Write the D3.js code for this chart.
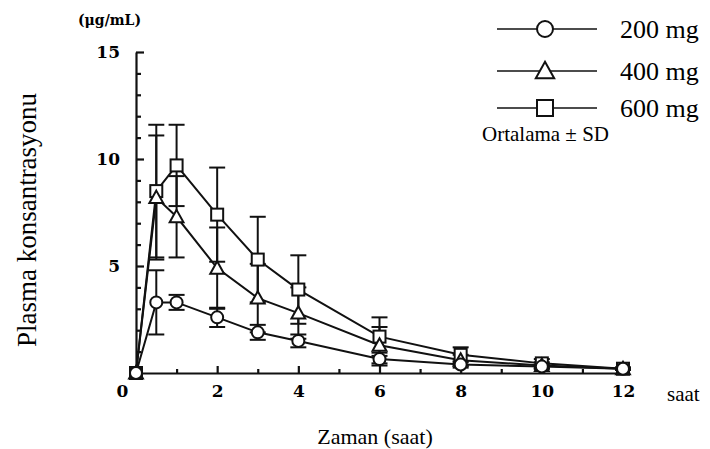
<!DOCTYPE html>
<html>
<head>
<meta charset="utf-8">
<script src="https://cdn.jsdelivr.net/npm/d3@7"></script>
<style>
  body { margin: 0; background: #fff; }
  svg { display: block; }
  .tick text { font-family: "DejaVu Serif", serif; font-weight: bold; }
  .serif { font-family: "Liberation Serif", "Times New Roman", "DejaVu Serif", serif; }
</style>
</head>
<body>
<div id="chart"></div>
<script>
// data (hours, ug/mL)
var times = [0, 0.5, 1, 2, 3, 4, 6, 8, 10, 12];
var mean200 = [0, 3.3, 3.3, 2.6, 1.9, 1.5, 0.65, 0.4, 0.3, 0.2];
var sd200   = [0, 1.5, 0.35, 0.45, 0.35, 0.3, 0.3, 0.15, 0.1, 0.05];
var mean400 = [0, 8.2, 7.3, 4.9, 3.5, 2.8, 1.3, 0.6, 0.35, 0.2];
var sd400   = [0, 2.9, 1.9, 1.9, 1.6, 1.2, 0.85, 0.25, 0.15, 0.05];
var mean600 = [0, 8.5, 9.7, 7.4, 5.3, 3.9, 1.7, 0.85, 0.45, 0.2];
var sd600   = [0, 3.1, 1.9, 2.2, 2.0, 1.6, 0.9, 0.35, 0.2, 0.05];
var doseLabels = ["200 mg", "400 mg", "600 mg"];
var xTicks = [0, 2, 4, 6, 8, 10, 12];
var yTicks = [5, 10, 15];

var width = 710, height = 449;
var svg = d3.select("#chart").append("svg")
  .attr("width", width).attr("height", height);

var x = d3.scaleLinear().domain([0, 12]).range([136, 623]);
var y = d3.scaleLinear().domain([0, 15]).range([373, 52]);

var series = [
  { name: doseLabels[0], shape: "circle", mean: mean200, sd: sd200 },
  { name: doseLabels[1], shape: "triangle", mean: mean400, sd: sd400 },
  { name: doseLabels[2], shape: "square", mean: mean600, sd: sd600 }
];

function drawMarker(g, shape, size) {
  if (shape === "circle") {
    g.append("circle").attr("r", size).attr("fill", "#fff")
      .attr("stroke", "#111").attr("stroke-width", 2);
  } else if (shape === "square") {
    g.append("rect").attr("x", -size).attr("y", -size)
      .attr("width", size * 2).attr("height", size * 2)
      .attr("fill", "#fff").attr("stroke", "#111").attr("stroke-width", 2);
  } else {
    var s = size * 1.15;
    g.append("path")
      .attr("d", `M0,${-s} L${s},${s * 0.8} L${-s},${s * 0.8} Z`)
      .attr("fill", "#fff").attr("stroke", "#111").attr("stroke-width", 2);
  }
}

// axes
var xAxis = svg.append("g")
  .attr("transform", `translate(0, ${y(0)})`)
  .call(d3.axisBottom(x).tickValues(xTicks).tickSizeInner(-7).tickSizeOuter(0).tickPadding(12));
xAxis.selectAll(".tick text").style("font-size", "17px")
  .attr("dx", d => d === 0 ? -14 : 0);

svg.append("g")
  .attr("transform", `translate(0, ${y(0)})`)
  .call(d3.axisBottom(x).tickValues([1, 3, 5, 7, 9, 11]).tickSizeInner(-4).tickSizeOuter(0).tickFormat(""))
  .select(".domain").remove();

var yAxis = svg.append("g")
  .attr("transform", `translate(${x(0)}, 0)`)
  .call(d3.axisLeft(y).tickValues(yTicks).tickSizeInner(-8).tickSizeOuter(0).tickPadding(16));
yAxis.selectAll(".tick text").style("font-size", "17px");

svg.append("g")
  .attr("transform", `translate(${x(0)}, 0)`)
  .call(d3.axisLeft(y).tickValues(d3.range(1, 15).filter(v => v % 5 !== 0)).tickSizeInner(-5).tickSizeOuter(0).tickFormat(""))
  .select(".domain").remove();

svg.selectAll(".domain, .tick line").attr("stroke", "#111").attr("stroke-width", 2.2);

// unit label
svg.append("text").attr("x", 78).attr("y", 25)
  .style("font-family", "DejaVu Serif, serif").style("font-weight", "bold")
  .style("font-size", "14px").text("(μg/mL)");

// lines
var line = d3.line().x((d, i) => x(times[i])).y(d => y(d));
series.forEach(function(s) {
  svg.append("path").datum(s.mean)
    .attr("d", line).attr("fill", "none")
    .attr("stroke", "#111").attr("stroke-width", 2);
});

// error bars
series.forEach(function(s) {
  var eb = svg.append("g");
  s.mean.forEach(function(m, i) {
    if (!s.sd[i]) return;
    var cx = x(times[i]);
    var top = y(m + s.sd[i]), bot = y(Math.max(0, m - s.sd[i]));
    eb.append("line").attr("x1", cx).attr("x2", cx).attr("y1", top).attr("y2", bot)
      .attr("stroke", "#111").attr("stroke-width", 2);
    [top, bot].forEach(function(yy) {
      eb.append("line").attr("x1", cx - 8).attr("x2", cx + 8).attr("y1", yy).attr("y2", yy)
        .attr("stroke", "#111").attr("stroke-width", 2);
    });
  });
});

// markers (600 first so the circles end up on top at 0 and 12 h)
series.slice().reverse().forEach(function(s) {
  s.mean.forEach(function(m, i) {
    var g = svg.append("g").attr("transform", `translate(${x(times[i])}, ${y(m)})`);
    drawMarker(g, s.shape, 6);
  });
});

// legend
var legendY = [29, 71, 108];
series.forEach(function(s, i) {
  var g = svg.append("g").attr("transform", `translate(0, ${legendY[i]})`);
  g.append("line").attr("x1", 497).attr("x2", 597).attr("y1", 0).attr("y2", 0)
    .attr("stroke", "#111").attr("stroke-width", 1.6);
  drawMarker(g.append("g").attr("transform", "translate(545, 0)"), s.shape, 8);
  g.append("text").attr("class", "serif").attr("x", 620).attr("y", 9)
    .style("font-size", "26px")
    .text(s.name);
});

svg.append("text").attr("class", "serif").attr("x", 482).attr("y", 141)
  .style("font-size", "21px")
  .text("Ortalama ± SD");

// axis titles
svg.append("text").attr("class", "serif").attr("x", 667).attr("y", 401)
  .style("font-size", "21px")
  .text("saat");

svg.append("text").attr("class", "serif").attr("x", 375).attr("y", 444).attr("text-anchor", "middle")
  .style("font-size", "22px")
  .text("Zaman (saat)");

svg.append("text").attr("class", "serif")
  .attr("transform", "translate(36, 220) rotate(-90)")
  .attr("text-anchor", "middle")
  .style("font-size", "27px")
  .text("Plasma konsantrasyonu");
</script>
</body>
</html>
